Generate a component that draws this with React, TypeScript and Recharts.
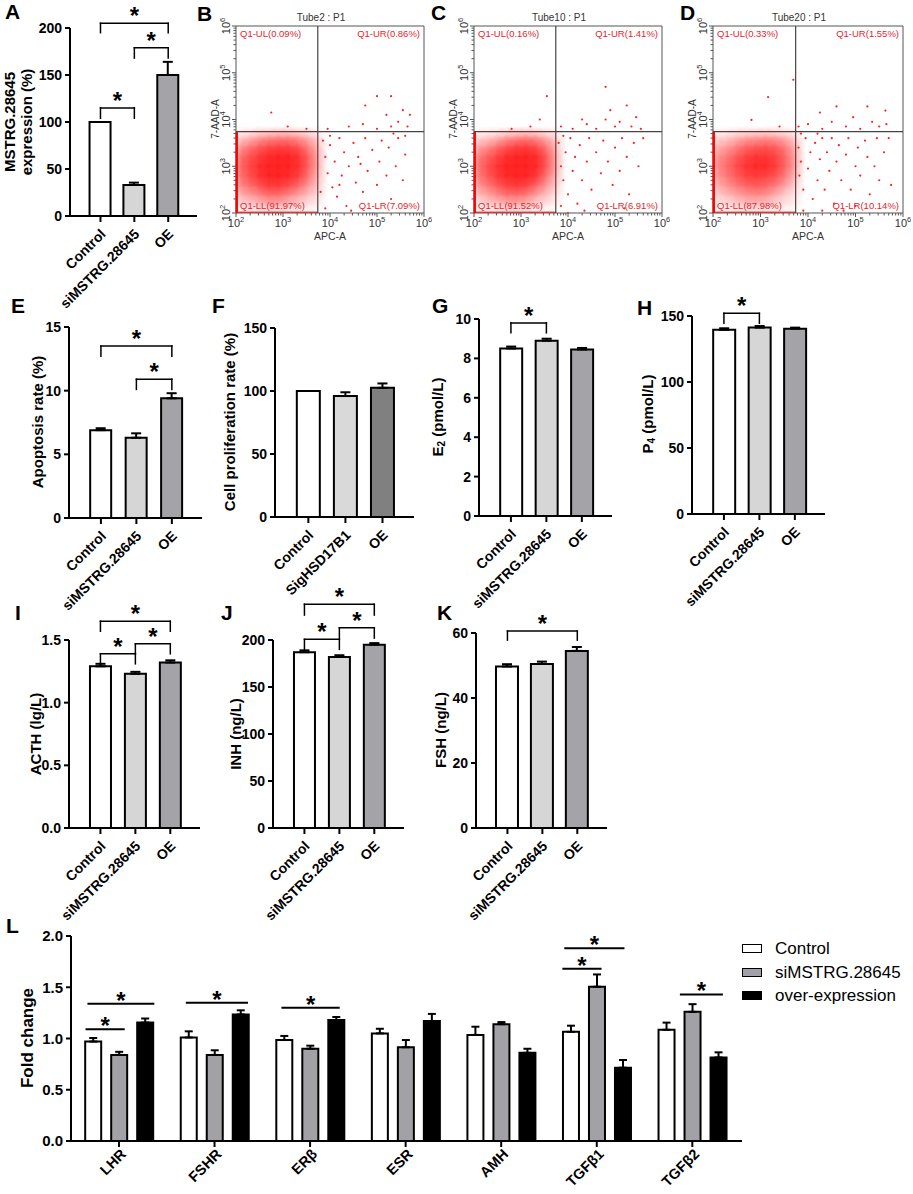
import React from "react";
import {
  Bar,
  BarChart,
  Cell,
  ErrorBar,
  ReferenceArea,
  ReferenceLine,
  Scatter,
  ScatterChart,
  XAxis,
  YAxis,
} from "recharts";

const FONT = '"Liberation Sans", Arial, Helvetica, sans-serif';
const LABEL_RED = "#e8232b";

// ---- bar panels (A, E-K) ----
const groups3 = ["Control", "siMSTRG.28645", "OE"];
const groupsF = ["Control", "SigHSD17B1", "OE"];

const exprMean = [100, 33, 150];
const exprErr = [0, 2.5, 14];
const apopMean = [6.9, 6.3, 9.4];
const apopErr = [0.15, 0.35, 0.4];
const prolMean = [100, 96, 102.5];
const prolErr = [0, 3, 3.5];
const e2Mean = [8.5, 8.9, 8.45];
const e2Err = [0.1, 0.1, 0.08];
const p4Mean = [139.5, 141.2, 140.4];
const p4Err = [1.2, 1.2, 0.8];
const acthMean = [1.29, 1.23, 1.32];
const acthErr = [0.02, 0.016, 0.018];
const inhMean = [187, 182, 195];
const inhErr = [2, 1.8, 1.7];
const fshMean = [49.7, 50.5, 54.5];
const fshErr = [0.7, 0.7, 1.2];

// significance brackets: [from group, to group, bracket height, end of drop]
const exprSig = [[0, 1, 115, 104], [1, 2, 179, 168], [0, 2, 205, 195]];
const apopSig = [[0, 2, 13.5, 12.7], [1, 2, 10.9, 10.1]];
const e2Sig = [[0, 1, 9.8, 9.3]];
const p4Sig = [[0, 1, 152, 144.5]];
const acthSig = [[0, 2, 1.65, 1.57], [0, 1, 1.39, 1.31], [1, 2, 1.47, 1.39]];
const inhSig = [[0, 2, 238, 226.5], [0, 1, 200.7, 190], [1, 2, 213, 202]];
const fshSig = [[0, 2, 60.6, 57.8]];

const fillsLight = ["#ffffff", "#d6d6d6", "#a4a4a8"];
const fillsF = ["#ffffff", "#d9d9d9", "#808080"];

// ---- panel L ----
const genes = ["LHR", "FSHR", "ERβ", "ESR", "AMH", "TGFβ1", "TGFβ2"];
const foldControl = [0.97, 1.01, 0.985, 1.05, 1.035, 1.065, 1.085];
const foldControlErr = [0.035, 0.06, 0.04, 0.045, 0.08, 0.06, 0.07];
const foldSi = [0.84, 0.84, 0.9, 0.915, 1.14, 1.505, 1.26];
const foldSiErr = [0.03, 0.045, 0.03, 0.07, 0.02, 0.12, 0.075];
const foldOE = [1.155, 1.235, 1.18, 1.17, 0.86, 0.715, 0.815];
const foldOEErr = [0.04, 0.04, 0.03, 0.07, 0.04, 0.075, 0.05];
// [x from, x to, height] in group units
const foldSig = [
  [-0.35, 0.06, 1.09],
  [-0.33, 0.37, 1.34],
  [0.7, 1.35, 1.35],
  [1.7, 2.31, 1.3],
  [4.66, 5.29, 1.88],
  [4.64, 5.05, 1.68],
  [5.87, 6.32, 1.43],
];
const foldSeries = [
  { key: "c", err: "ce", name: "Control", fill: "#ffffff" },
  { key: "s", err: "se", name: "siMSTRG.28645", fill: "#a2a2a6" },
  { key: "o", err: "oe", name: "over-expression", fill: "#000000" },
];

// ---- flow cytometry (B-D), log10 units ----
const gateLog = 3.74;
const quadNames = ["Q1-UL", "Q1-UR", "Q1-LL", "Q1-LR"];
const quadB = [0.09, 0.86, 91.97, 7.09];
const quadC = [0.16, 1.41, 91.52, 6.91];
const quadD = [0.33, 1.55, 87.98, 10.14];

const binX = [2.1, 2.3, 2.5, 2.7, 2.9, 3.1, 3.3, 3.5, 3.7];
const binY = [3.6, 3.4, 3.2, 3.0, 2.8, 2.6, 2.4, 2.2];
const densB = [
  [0.15, 0.2, 0.3, 0.35, 0.4, 0.4, 0.35, 0.25, 0.15],
  [0.35, 0.45, 0.6, 0.7, 0.75, 0.75, 0.65, 0.45, 0.25],
  [0.5, 0.65, 0.8, 0.95, 1, 1, 0.9, 0.6, 0.3],
  [0.55, 0.7, 0.9, 1, 1, 1, 0.9, 0.6, 0.3],
  [0.5, 0.65, 0.85, 1, 1, 0.95, 0.8, 0.5, 0.25],
  [0.4, 0.5, 0.65, 0.8, 0.8, 0.7, 0.55, 0.35, 0.2],
  [0.25, 0.3, 0.4, 0.5, 0.5, 0.4, 0.3, 0.2, 0.12],
  [0.12, 0.15, 0.2, 0.25, 0.25, 0.2, 0.15, 0.1, 0.06],
];
const densC = [
  [0.12, 0.15, 0.2, 0.3, 0.35, 0.4, 0.35, 0.25, 0.15],
  [0.3, 0.35, 0.5, 0.65, 0.75, 0.8, 0.7, 0.5, 0.25],
  [0.45, 0.55, 0.75, 0.9, 1, 1, 0.95, 0.65, 0.3],
  [0.5, 0.65, 0.85, 1, 1, 1, 0.95, 0.65, 0.3],
  [0.45, 0.6, 0.8, 0.95, 1, 1, 0.85, 0.5, 0.25],
  [0.35, 0.45, 0.6, 0.75, 0.8, 0.75, 0.55, 0.35, 0.18],
  [0.2, 0.28, 0.38, 0.48, 0.5, 0.45, 0.3, 0.2, 0.1],
  [0.1, 0.14, 0.18, 0.22, 0.25, 0.2, 0.14, 0.08, 0.05],
];
const densD = [
  [0.12, 0.15, 0.22, 0.28, 0.3, 0.35, 0.3, 0.25, 0.15],
  [0.25, 0.3, 0.42, 0.55, 0.6, 0.65, 0.6, 0.45, 0.25],
  [0.35, 0.45, 0.6, 0.75, 0.85, 0.85, 0.75, 0.55, 0.3],
  [0.4, 0.5, 0.7, 0.85, 0.95, 0.95, 0.8, 0.55, 0.3],
  [0.35, 0.45, 0.6, 0.75, 0.8, 0.75, 0.65, 0.45, 0.22],
  [0.25, 0.35, 0.45, 0.55, 0.6, 0.55, 0.45, 0.3, 0.15],
  [0.15, 0.2, 0.28, 0.35, 0.38, 0.35, 0.25, 0.15, 0.08],
  [0.08, 0.1, 0.14, 0.18, 0.2, 0.18, 0.12, 0.08, 0.05],
];
const eventsB = [
  [3.85, 3.55], [3.9, 3.2], [3.95, 2.85], [4.0, 3.45], [4.05, 2.55], [4.1, 3.1],
  [4.15, 2.35], [4.2, 3.6], [4.25, 2.8], [4.3, 3.3], [4.35, 2.15], [4.4, 3.0],
  [4.5, 3.5], [4.55, 2.65], [4.6, 3.2], [4.7, 2.45], [4.75, 3.6], [4.8, 2.9],
  [4.9, 3.35], [5.0, 2.6], [5.05, 3.1], [5.1, 3.55], [5.2, 2.8], [5.25, 3.4],
  [5.3, 2.3], [5.4, 3.0], [5.45, 3.6], [5.55, 2.7], [5.6, 3.25], [3.8, 2.45],
  [3.9, 2.1], [4.45, 2.05], [4.0, 3.65], [5.35, 3.7], [5.6, 3.65], [4.2, 2.6],
  [4.65, 3.05], [3.95, 3.8], [4.4, 3.85], [4.7, 3.9], [5.0, 3.8], [5.2, 4.1],
  [5.3, 3.85], [5.45, 3.95], [5.55, 4.2], [5.65, 3.85], [5.0, 4.5], [5.3, 4.5],
  [4.75, 4.3], [5.7, 4.1], [2.75, 4.15], [3.1, 3.85], [3.5, 3.8],
];
const eventsC = [
  [3.8, 3.5], [3.85, 3.0], [3.9, 2.7], [3.95, 3.3], [4.0, 2.4], [4.05, 3.6],
  [4.1, 2.9], [4.15, 3.2], [4.2, 2.2], [4.25, 3.45], [4.3, 2.7], [4.4, 3.1],
  [4.45, 3.6], [4.5, 2.5], [4.6, 3.3], [4.7, 2.85], [4.75, 3.55], [4.85, 3.1],
  [4.95, 2.6], [5.0, 3.4], [5.1, 2.9], [5.15, 3.6], [5.25, 3.2], [5.3, 2.4],
  [5.4, 3.5], [5.5, 3.0], [5.6, 3.6], [3.85, 2.15], [4.35, 2.05], [5.2, 2.1],
  [3.9, 3.65], [4.0, 2.0], [3.85, 3.85], [4.1, 3.8], [4.4, 3.9], [4.6, 3.8],
  [4.8, 4.0], [4.9, 4.2], [5.0, 3.85], [5.1, 3.95], [5.25, 4.3], [5.35, 3.85],
  [5.45, 4.05], [5.55, 3.8], [4.8, 4.7], [4.3, 4.0], [3.55, 4.5], [3.4, 4.0],
  [3.2, 3.85], [2.8, 3.8],
];
const eventsD = [
  [3.8, 3.4], [3.82, 2.8], [3.85, 3.1], [3.9, 2.5], [3.95, 3.6], [4.0, 2.95],
  [4.05, 3.3], [4.1, 2.3], [4.15, 3.5], [4.2, 2.7], [4.25, 3.15], [4.3, 3.6],
  [4.35, 2.5], [4.4, 3.3], [4.45, 2.9], [4.5, 3.6], [4.55, 2.2], [4.6, 3.1],
  [4.65, 3.45], [4.7, 2.7], [4.8, 3.25], [4.85, 3.6], [4.9, 2.5], [5.0, 3.0],
  [5.05, 3.4], [5.1, 2.8], [5.2, 3.55], [5.25, 3.2], [5.3, 2.4], [5.4, 3.0],
  [5.45, 3.6], [5.5, 2.7], [5.6, 3.3], [5.7, 3.6], [5.75, 2.6], [3.9, 2.05],
  [4.3, 2.05], [4.75, 2.05], [5.0, 2.15], [3.85, 3.7], [4.2, 3.7], [3.8, 3.85],
  [4.0, 3.9], [4.3, 3.8], [4.5, 3.95], [4.6, 4.28], [4.8, 3.85], [4.95, 4.05],
  [5.1, 3.8], [5.25, 4.28], [5.35, 3.95], [5.5, 3.85], [5.63, 4.19], [5.65, 3.9],
  [4.25, 4.15], [3.69, 4.85], [3.16, 4.48], [2.81, 3.99], [3.4, 3.85],
];
const decades = [2, 3, 4, 5, 6];
const logTicks = decades
  .slice(0, -1)
  .flatMap((n) => [1, 2, 3, 4, 5, 6, 7, 8, 9].map((k) => n + Math.log10(k)))
  .concat([6]);

function Star({ viewBox, dy }: any) {
  if (!viewBox) return null;
  return (
    <text
      x={viewBox.x + viewBox.width / 2}
      y={viewBox.y + dy}
      textAnchor="middle"
      fontSize={24}
      fontWeight={700}
      fill="#000"
    >
      *
    </text>
  );
}

function CatTick({ x, y, payload, cats, size, dx, dy }: any) {
  const ax = x + dx;
  const ay = y + dy;
  return (
    <text
      x={ax}
      y={ay}
      transform={`rotate(-45 ${ax} ${ay})`}
      textAnchor="end"
      fontSize={size}
      fontWeight={700}
      fill="#000"
    >
      {cats[payload.value]}
    </text>
  );
}

function bracketLines(sig: number[][]) {
  return sig.flatMap(([a, b, yl, yd], k) => [
    <ReferenceLine
      key={`h${k}`}
      segment={[{ x: a, y: yl }, { x: b, y: yl }]}
      stroke="#000"
      strokeWidth={1.5}
      strokeLinecap="square"
      ifOverflow="visible"
      label={(p: any) => <Star {...p} dy={1} />}
    />,
    <ReferenceLine
      key={`l${k}`}
      segment={[{ x: a, y: yl }, { x: a, y: yd }]}
      stroke="#000"
      strokeWidth={1.5}
      strokeLinecap="square"
      ifOverflow="visible"
    />,
    <ReferenceLine
      key={`r${k}`}
      segment={[{ x: b, y: yl }, { x: b, y: yd }]}
      stroke="#000"
      strokeWidth={1.5}
      strokeLinecap="square"
      ifOverflow="visible"
    />,
  ]);
}

type PanelProps = {
  axisX: number;
  top: number;
  bottom: number;
  right: number;
  max: number;
  ticks: number[];
  cats: string[];
  mean: number[];
  err: number[];
  fills: string[];
  sig: number[][];
  barSize: number;
  digits?: number;
};

function BarPanel(p: PanelProps) {
  const mt = 60;
  const yw = 60;
  const xh = 100;
  const mr = 10;
  const data = p.mean.map((v, i) => ({ i, v, e: [0, p.err[i]] }));
  return (
    <div style={{ position: "absolute", left: p.axisX - yw, top: p.top - mt }}>
      <BarChart
        width={p.right - p.axisX + yw + mr}
        height={p.bottom - p.top + mt + xh}
        data={data}
        margin={{ top: mt, right: mr, bottom: 0, left: 0 }}
      >
        <XAxis
          type="number"
          dataKey="i"
          domain={[-0.9, 2.85]}
          ticks={[0, 1, 2]}
          interval={0}
          height={xh}
          stroke="#000"
          axisLine={{ strokeWidth: 2 }}
          tickLine={{ strokeWidth: 2 }}
          tickSize={6}
          tickMargin={0}
          tick={(t: any) => <CatTick {...t} cats={p.cats} size={14} dx={6} dy={13} />}
        />
        <YAxis
          type="number"
          domain={[0, p.max]}
          ticks={p.ticks}
          interval={0}
          allowDataOverflow
          width={yw}
          stroke="#000"
          axisLine={{ strokeWidth: 2 }}
          tickLine={{ strokeWidth: 2 }}
          tickSize={5}
          tickMargin={3}
          tick={{ fill: "#000", fontSize: 14, fontWeight: 700 }}
          tickFormatter={(v: number) => (p.digits ? v.toFixed(p.digits) : String(v))}
        />
        <Bar
          dataKey="v"
          barSize={p.barSize}
          stroke="#000"
          strokeWidth={2}
          isAnimationActive={false}
        >
          {data.map((d) => (
            <Cell key={d.i} fill={p.fills[d.i]} />
          ))}
          <ErrorBar dataKey="e" width={5} stroke="#000" strokeWidth={2} direction="y" />
        </Bar>
        {bracketLines(p.sig)}
      </BarChart>
    </div>
  );
}

function FoldPanel() {
  const axisX = 71;
  const yTop = 936;
  const yBot = 1141;
  const xEnd = 742;
  const mt = 30;
  const yw = 60;
  const xh = 53;
  const mr = 10;
  const data = genes.map((g, i) => ({
    i,
    c: foldControl[i],
    ce: [0, foldControlErr[i]],
    s: foldSi[i],
    se: [0, foldSiErr[i]],
    o: foldOE[i],
    oe: [0, foldOEErr[i]],
  }));
  return (
    <div style={{ position: "absolute", left: axisX - yw, top: yTop - mt }}>
      <BarChart
        width={xEnd - axisX + yw + mr}
        height={yBot - yTop + mt + xh}
        data={data}
        barGap={10}
        margin={{ top: mt, right: mr, bottom: 0, left: 0 }}
      >
        <XAxis
          type="number"
          dataKey="i"
          domain={[-0.502, 6.52]}
          ticks={genes.map((g, i) => i)}
          interval={0}
          height={xh}
          stroke="#000"
          axisLine={{ strokeWidth: 2 }}
          tickLine={{ strokeWidth: 2 }}
          tickSize={6}
          tickMargin={0}
          tick={(t: any) => <CatTick {...t} cats={genes} size={14.5} dx={8} dy={8} />}
        />
        <YAxis
          type="number"
          domain={[0, 2]}
          ticks={[0, 0.5, 1, 1.5, 2]}
          interval={0}
          allowDataOverflow
          width={yw}
          stroke="#000"
          axisLine={{ strokeWidth: 2 }}
          tickLine={{ strokeWidth: 2 }}
          tickSize={5}
          tickMargin={3}
          tick={{ fill: "#000", fontSize: 15, fontWeight: 700 }}
          tickFormatter={(v: number) => v.toFixed(1)}
        />
        {foldSeries.map((s) => (
          <Bar
            key={s.key}
            dataKey={s.key}
            name={s.name}
            fill={s.fill}
            barSize={16}
            stroke="#000"
            strokeWidth={2}
            isAnimationActive={false}
          >
            <ErrorBar dataKey={s.err} width={4} stroke="#000" strokeWidth={2} direction="y" />
          </Bar>
        ))}
        {foldSig.map(([a, b, y], k) => (
          <ReferenceLine
            key={`s${k}`}
            segment={[{ x: a, y }, { x: b, y }]}
            stroke="#000"
            strokeWidth={2}
            ifOverflow="visible"
            label={(p: any) => <Star {...p} dy={5} />}
          />
        ))}
      </BarChart>
    </div>
  );
}

function LogTickX({ x, y, payload }: any) {
  const v = payload.value;
  const major = Math.abs(v - Math.round(v)) < 1e-6;
  return (
    <g>
      <line x1={x} x2={x} y1={y} y2={y + (major ? 4 : 2.5)} stroke="#555" />
      {major && (
        <text x={x} y={y + 14} textAnchor="middle" fontSize={11} fill="#333">
          10
          <tspan dy={-5} fontSize={7.5}>
            {Math.round(v)}
          </tspan>
        </text>
      )}
    </g>
  );
}

function LogTickY({ x, y, payload }: any) {
  const v = payload.value;
  const major = Math.abs(v - Math.round(v)) < 1e-6;
  const tx = x - 6;
  return (
    <g>
      <line x1={x} x2={x - (major ? 4 : 2.5)} y1={y} y2={y} stroke="#555" />
      {major && (
        <text
          x={tx}
          y={y}
          transform={`rotate(-90 ${tx} ${y})`}
          textAnchor="middle"
          fontSize={11}
          fill="#333"
        >
          10
          <tspan dy={-5} fontSize={7.5}>
            {Math.round(v)}
          </tspan>
        </text>
      )}
    </g>
  );
}

// soft density blobs, one per bin, blended into a cloud
const DensDot = (p: any) => (
  <circle cx={p.cx} cy={p.cy} r={13} fill="url(#cloudGlow)" opacity={p.payload.d * 0.72} />
);
const EventDot = (p: any) => <circle cx={p.cx} cy={p.cy} r={1.1} fill="#ff2020" />;

function FlowPanel({
  left,
  width,
  quad,
  dens,
  events,
}: {
  left: number;
  width: number;
  quad: number[];
  dens: number[][];
  events: number[][];
}) {
  const top = 26;
  const h = 187;
  const mt = 20;
  const yw = 40;
  const xh = 40;
  const mr = 8;
  const densPts = binY.flatMap((y, r) => binX.map((x, c) => ({ x, y, d: dens[r][c] })));
  const dots = events.map(([x, y]) => ({ x, y }));
  const q = quadNames.map((n, k) => `${n}(${quad[k].toFixed(2)}%)`);
  const qLabel = (value: string, position: string) => ({
    value,
    position,
    offset: 4,
    fill: LABEL_RED,
    fontSize: 9.5,
  });
  return (
    <div style={{ position: "absolute", left: left - yw, top: top - mt }}>
      <ScatterChart
        width={width + yw + mr}
        height={h + mt + xh}
        margin={{ top: mt, right: mr, bottom: 0, left: 0 }}
      >
        <XAxis
          type="number"
          dataKey="x"
          domain={[2, 6]}
          ticks={logTicks}
          interval={0}
          allowDataOverflow
          axisLine={false}
          tickLine={false}
          tickSize={0}
          tickMargin={0}
          height={xh}
          tick={(t: any) => <LogTickX {...t} />}
        />
        <YAxis
          type="number"
          dataKey="y"
          domain={[2, 6]}
          ticks={logTicks}
          interval={0}
          allowDataOverflow
          axisLine={false}
          tickLine={false}
          tickSize={0}
          tickMargin={0}
          width={yw}
          tick={(t: any) => <LogTickY {...t} />}
        />
        <Scatter data={densPts} shape={DensDot} isAnimationActive={false} />
        <Scatter data={dots} shape={EventDot} isAnimationActive={false} />
        <ReferenceLine
          segment={[{ x: 2.015, y: 2 }, { x: 2.015, y: gateLog }]}
          stroke="#ff0000"
          strokeWidth={2.5}
        />
        <ReferenceLine
          segment={[{ x: 2, y: 2.015 }, { x: gateLog, y: 2.015 }]}
          stroke="#ff0000"
          strokeWidth={1.5}
          strokeOpacity={0.7}
        />
        <ReferenceArea x1={2} x2={6} y1={2} y2={6} fill="none" stroke="#555" strokeWidth={1} />
        <ReferenceLine x={gateLog} stroke="#444" strokeWidth={1.2} />
        <ReferenceLine y={gateLog} stroke="#444" strokeWidth={1.2} />
        <ReferenceArea x1={2} x2={gateLog} y1={gateLog} y2={6} fill="none" label={qLabel(q[0], "insideTopLeft")} />
        <ReferenceArea x1={gateLog} x2={6} y1={gateLog} y2={6} fill="none" label={qLabel(q[1], "insideTopRight")} />
        <ReferenceArea x1={2} x2={gateLog} y1={2} y2={gateLog} fill="none" label={qLabel(q[2], "insideBottomLeft")} />
        <ReferenceArea x1={gateLog} x2={6} y1={2} y2={gateLog} fill="none" label={qLabel(q[3], "insideBottomRight")} />
      </ScatterChart>
    </div>
  );
}

function RotLabel({ x, y, size = 15, children }: any) {
  return (
    <text
      transform={`translate(${x} ${y}) rotate(-90)`}
      textAnchor="middle"
      dominantBaseline="central"
      fontSize={size}
      fontWeight={700}
      fill="#000"
    >
      {children}
    </text>
  );
}

const flowBoxes = [
  { left: 236, width: 188, title: "Tube2 : P1" },
  { left: 474, width: 188, title: "Tube10 : P1" },
  { left: 713, width: 190, title: "Tube20 : P1" },
];

const letters: [string, number, number][] = [
  ["A", 5, 19], ["B", 197, 21], ["C", 431, 20], ["D", 680, 20],
  ["E", 11, 313], ["F", 212, 313], ["G", 432, 313], ["H", 637, 315],
  ["I", 15, 620], ["J", 221, 620], ["K", 437, 620], ["L", 6, 933],
];

export default function App() {
  return (
    <div
      style={{
        position: "absolute",
        left: 0,
        top: 0,
        width: 913,
        height: 1194,
        background: "#fff",
        fontFamily: FONT,
        overflow: "hidden",
      }}
    >
      <svg width={0} height={0} style={{ position: "absolute" }}>
        <defs>
          <radialGradient id="cloudGlow">
            <stop offset="0" stopColor="#ff0000" stopOpacity={1} />
            <stop offset="0.5" stopColor="#ff0000" stopOpacity={0.55} />
            <stop offset="1" stopColor="#ff0000" stopOpacity={0} />
          </radialGradient>
        </defs>
      </svg>

      <BarPanel axisX={70} top={28} bottom={216} right={197} max={200} ticks={[0, 50, 100, 150, 200]}
        cats={groups3} mean={exprMean} err={exprErr} fills={fillsLight} sig={exprSig} barSize={21} />
      <BarPanel axisX={69} top={327} bottom={518} right={202} max={15} ticks={[0, 5, 10, 15]}
        cats={groups3} mean={apopMean} err={apopErr} fills={fillsLight} sig={apopSig} barSize={21} />
      <BarPanel axisX={275} top={328} bottom={517} right={414} max={150} ticks={[0, 50, 100, 150]}
        cats={groupsF} mean={prolMean} err={prolErr} fills={fillsF} sig={[]} barSize={23} />
      <BarPanel axisX={479} top={319} bottom={516} right={612} max={10} ticks={[0, 2, 4, 6, 8, 10]}
        cats={groups3} mean={e2Mean} err={e2Err} fills={fillsLight} sig={e2Sig} barSize={22} />
      <BarPanel axisX={692} top={316} bottom={514} right={825} max={150} ticks={[0, 50, 100, 150]}
        cats={groups3} mean={p4Mean} err={p4Err} fills={fillsLight} sig={p4Sig} barSize={22} />
      <BarPanel axisX={69} top={640} bottom={828} right={200} max={1.5} ticks={[0, 0.5, 1, 1.5]}
        cats={groups3} mean={acthMean} err={acthErr} fills={fillsLight} sig={acthSig} barSize={21} digits={1} />
      <BarPanel axisX={273} top={640} bottom={828} right={404} max={200} ticks={[0, 50, 100, 150, 200]}
        cats={groups3} mean={inhMean} err={inhErr} fills={fillsLight} sig={inhSig} barSize={21} />
      <BarPanel axisX={476} top={633} bottom={828} right={607} max={60} ticks={[0, 20, 40, 60]}
        cats={groups3} mean={fshMean} err={fshErr} fills={fillsLight} sig={fshSig} barSize={22} />

      <FlowPanel left={236} width={188} quad={quadB} dens={densB} events={eventsB} />
      <FlowPanel left={474} width={188} quad={quadC} dens={densC} events={eventsC} />
      <FlowPanel left={713} width={190} quad={quadD} dens={densD} events={eventsD} />

      <FoldPanel />

      <div style={{ position: "absolute", left: 742, top: 937 }}>
        {foldSeries.map((s) => (
          <div key={s.key} style={{ display: "flex", alignItems: "center", height: 23.5 }}>
            <span
              style={{
                width: 18,
                height: 7,
                border: "1.5px solid #000",
                background: s.fill,
                display: "inline-block",
              }}
            />
            <span style={{ marginLeft: 13, fontSize: 17, color: "#000", lineHeight: 1 }}>{s.name}</span>
          </div>
        ))}
      </div>

      <svg
        width={913}
        height={1194}
        style={{ position: "absolute", left: 0, top: 0, pointerEvents: "none", fontFamily: FONT }}
      >
        {letters.map(([t, x, y]) => (
          <text key={t} x={x} y={y} fontSize={21} fontWeight={700} fill="#000">
            {t}
          </text>
        ))}
        <RotLabel x={9} y={122}>MSTRG.28645</RotLabel>
        <RotLabel x={26} y={122}>expression (%)</RotLabel>
        <RotLabel x={37} y={422}>Apoptosis rate (%)</RotLabel>
        <RotLabel x={229} y={422}>Cell proliferation rate (%)</RotLabel>
        <RotLabel x={437} y={417}>
          E<tspan fontSize={10} dy={4}>2</tspan>
          <tspan dy={-4}> (pmol/L)</tspan>
        </RotLabel>
        <RotLabel x={647} y={414}>
          P<tspan fontSize={10} dy={4}>4</tspan>
          <tspan dy={-4}> (pmol/L)</tspan>
        </RotLabel>
        <RotLabel x={35} y={734}>ACTH (lg/L)</RotLabel>
        <RotLabel x={235} y={734}>INH (ng/L)</RotLabel>
        <RotLabel x={440} y={730}>FSH (ng/L)</RotLabel>
        <RotLabel x={27} y={1038} size={17}>Fold change</RotLabel>
        {flowBoxes.map((b) => (
          <g key={b.title}>
            <text x={b.left + b.width / 2 - 9} y={21} textAnchor="middle" fontSize={10} fill="#333">
              {b.title}
            </text>
            <text
              transform={`translate(${b.left - 21} 119) rotate(-90)`}
              textAnchor="middle"
              dominantBaseline="central"
              fontSize={10}
              fill="#333"
            >
              7-AAD-A
            </text>
            <text x={b.left + b.width / 2} y={240} textAnchor="middle" fontSize={10.5} fill="#333">
              APC-A
            </text>
          </g>
        ))}
      </svg>
    </div>
  );
}
